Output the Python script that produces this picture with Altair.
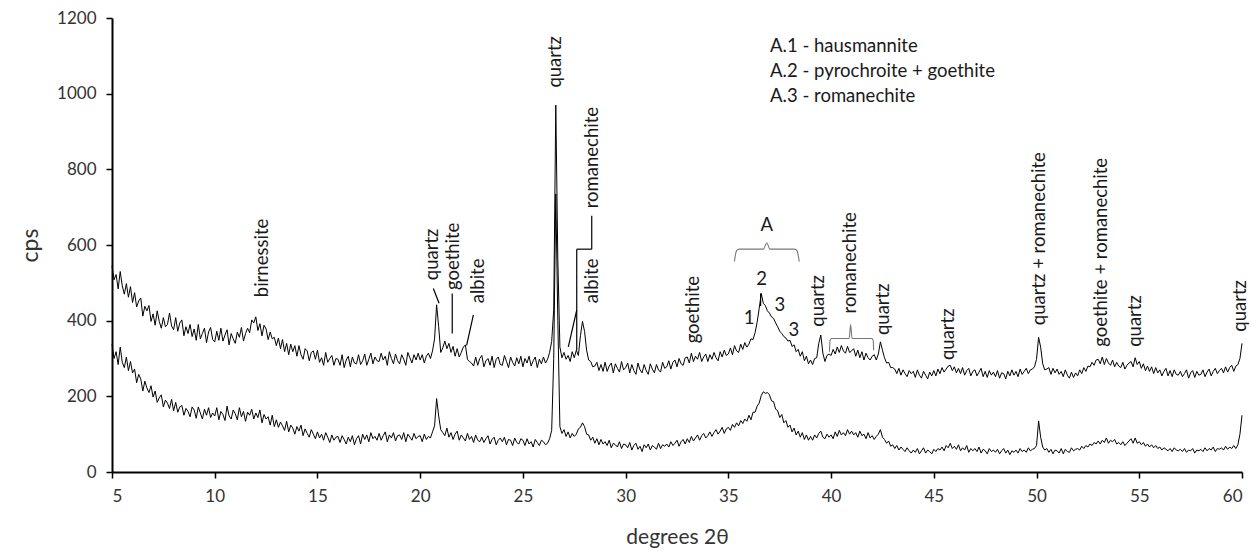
import altair as alt
import pandas as pd

# ---------------- data ----------------
X_START = 5.0
X_STEP = 0.1

upper = [
    545, 508, 522, 484, 530, 492, 470, 498, 462, 490,
    448, 474, 436, 452, 460, 412, 438, 426, 440, 398,
    418, 388, 426, 398, 380, 408, 384, 390, 420, 386,
    376, 408, 372, 394, 402, 360, 384, 366, 390, 358,
    378, 348, 390, 352, 366, 380, 342, 370, 382, 350,
    344, 372, 348, 380, 346, 362, 376, 336, 366, 352,
    340, 370, 356, 382, 346, 366, 380, 368, 402, 394,
    410, 374, 392, 360, 388, 378, 350, 370, 352, 356,
    334, 354, 326, 350, 318, 340, 310, 338, 318, 334,
    306, 334, 310, 298, 326, 320, 294, 316, 320, 298,
    322, 290, 302, 282, 316, 290, 300, 308, 282, 300,
    298, 282, 310, 276, 296, 306, 278, 304, 288, 286,
    310, 284, 294, 312, 282, 298, 314, 286, 304, 294,
    292, 314, 296, 306, 282, 318, 300, 286, 312, 294,
    286, 310, 298, 282, 316, 302, 288, 310, 296, 314,
    296, 310, 288, 306, 314, 300, 320, 352, 442, 384,
    316, 328, 346, 326, 340, 316, 332, 306, 326, 304,
    316, 330, 336, 298, 292, 288, 280, 304, 282, 300,
    308, 278, 294, 300, 282, 306, 276, 298, 304, 284,
    282, 308, 292, 276, 304, 290, 280, 302, 286, 306,
    278, 300, 288, 306, 280, 294, 304, 276, 298, 286,
    304, 288, 298, 316, 345, 430, 970, 560, 330, 302,
    316, 298, 308, 292, 318, 302, 322, 308, 360, 398,
    372, 322, 296, 292, 278, 280, 290, 268, 284, 266,
    290, 266, 280, 288, 262, 286, 274, 264, 292, 270,
    276, 288, 262, 284, 268, 258, 288, 270, 262, 284,
    268, 258, 286, 272, 262, 284, 270, 264, 290, 274,
    278, 294, 272, 290, 296, 278, 300, 286, 282, 302,
    304, 288, 314, 292, 306, 298, 316, 292, 304, 312,
    292, 310, 298, 316, 302, 294, 318, 304, 322, 308,
    312, 328, 310, 334, 320, 316, 338, 324, 342, 330,
    338, 352, 350, 368, 396, 432, 472, 446, 440, 426,
    420, 410, 406, 394, 384, 372, 366, 358, 354, 346,
    348, 332, 336, 318, 324, 306, 318, 294, 306, 286,
    296, 284, 300, 302, 340, 362, 314, 292, 308, 312,
    308, 324, 312, 330, 316, 334, 320, 314, 332, 316,
    320, 326, 306, 322, 302, 318, 296, 314, 302, 296,
    306, 310, 296, 312, 344, 322, 302, 288, 290, 276,
    276, 272, 260, 274, 256, 270, 260, 252, 268, 260,
    266, 250, 270, 256, 248, 266, 256, 246, 264, 254,
    268, 254, 272, 260, 276, 264, 272, 280, 282, 268,
    278, 262, 274, 260, 276, 256, 268, 274, 254, 266,
    270, 254, 264, 274, 252, 266, 250, 268, 256, 264,
    252, 268, 248, 262, 260, 246, 266, 254, 270, 256,
    266, 252, 272, 258, 266, 274, 260, 270, 272, 278,
    298, 356, 330, 286, 270, 272, 276, 258, 274, 262,
    272, 258, 266, 252, 270, 256, 248, 264, 250, 262,
    254, 270, 260, 276, 266, 280, 278, 290, 282, 296,
    298, 286, 304, 284, 300, 288, 282, 296, 278, 290,
    280, 276, 290, 272, 282, 288, 292, 278, 302, 284,
    292, 274, 286, 268, 280, 266, 278, 260, 276, 262,
    270, 254, 266, 274, 254, 268, 252, 270, 258, 256,
    266, 252, 260, 270, 248, 262, 268, 250, 266, 256,
    258, 270, 252, 264, 272, 254, 266, 274, 260, 268,
    274, 262, 278, 264, 276, 282, 266, 280, 284, 300,
    340,
]

lower = [
    338, 300, 318, 284, 330, 290, 276, 304, 268, 292,
    262, 272, 236, 258, 246, 214, 240, 222, 210, 228,
    198, 214, 184, 196, 204, 172, 190, 182, 168, 192,
    162, 184, 158, 172, 176, 150, 168, 160, 146, 172,
    164, 142, 172, 156, 140, 166, 150, 170, 144, 156,
    148, 170, 138, 160, 152, 136, 174, 148, 140, 164,
    154, 138, 170, 146, 160, 134, 158, 150, 166, 140,
    156, 144, 164, 130, 152, 140, 146, 124, 150, 120,
    138, 118, 132, 122, 110, 134, 106, 124, 116, 100,
    120, 108, 124, 96, 114, 102, 92, 112, 100, 88,
    106, 90, 100, 84, 104, 92, 78, 98, 84, 92,
    94, 78, 96, 86, 74, 92, 80, 96, 72, 88,
    96, 74, 100, 86, 98, 80, 104, 88, 94, 84,
    102, 84, 96, 106, 80, 98, 90, 104, 82, 96,
    98, 86, 104, 80, 100, 92, 84, 102, 88, 94,
    96, 80, 100, 86, 94, 90, 106, 122, 194, 148,
    112, 104, 96, 116, 92, 104, 86, 100, 108, 84,
    98, 90, 82, 102, 86, 94, 78, 98, 84, 80,
    92, 78, 88, 96, 74, 86, 92, 72, 84, 90,
    80, 92, 72, 86, 84, 70, 90, 78, 74, 88,
    84, 70, 88, 74, 80, 66, 86, 78, 70, 84,
    80, 72, 76, 88, 110, 300, 735, 400, 120, 102,
    112, 94, 106, 90, 102, 94, 100, 114, 118, 130,
    120, 100, 98, 84, 92, 76, 88, 72, 86, 74,
    80, 70, 84, 64, 76, 72, 66, 80, 62, 74,
    72, 64, 78, 58, 70, 76, 60, 68, 54, 72,
    64, 74, 58, 70, 66, 60, 76, 62, 72, 68,
    74, 66, 80, 70, 76, 84, 68, 80, 86, 74,
    88, 78, 94, 82, 90, 98, 84, 96, 102, 90,
    96, 106, 94, 104, 112, 100, 108, 118, 102, 114,
    118, 110, 126, 118, 130, 122, 136, 128, 140, 134,
    150, 138, 158, 158, 174, 182, 202, 212, 208, 210,
    204, 188, 186, 166, 162, 144, 152, 130, 136, 118,
    124, 106, 116, 98, 108, 92, 104, 86, 98, 84,
    94, 84, 98, 90, 102, 108, 92, 88, 100, 92,
    98, 88, 106, 94, 110, 98, 104, 96, 112, 100,
    108, 98, 104, 92, 108, 96, 100, 88, 104, 90,
    96, 86, 94, 100, 112, 92, 86, 76, 82, 68,
    72, 62, 70, 58, 66, 60, 54, 64, 56, 50,
    58, 52, 62, 48, 56, 64, 50, 58, 54, 48,
    60, 54, 62, 58, 66, 56, 70, 64, 76, 62,
    68, 60, 72, 56, 64, 58, 70, 52, 62, 56,
    62, 54, 66, 50, 60, 56, 48, 62, 54, 58,
    52, 60, 48, 56, 62, 50, 58, 46, 56, 52,
    58, 50, 62, 54, 58, 52, 64, 56, 60, 62,
    70, 135, 92, 66, 58, 62, 52, 60, 48, 58,
    56, 50, 62, 48, 60, 54, 52, 64, 56, 60,
    62, 58, 68, 62, 70, 66, 74, 70, 78, 74,
    82, 74, 84, 78, 90, 76, 84, 80, 86, 74,
    78, 72, 80, 70, 76, 82, 88, 76, 90, 76,
    80, 72, 78, 68, 74, 66, 72, 64, 70, 62,
    66, 58, 64, 60, 56, 62, 54, 64, 58, 56,
    60, 54, 62, 52, 58, 56, 62, 50, 58, 56,
    60, 54, 64, 56, 62, 58, 66, 54, 62, 60,
    64, 58, 68, 60, 66, 62, 70, 62, 72, 100,
    150,
]

# vertical (rotated) peak labels: text, 2theta, cps at the text's start
vlabel_text = ["birnessite", "quartz", "goethite", "albite", "quartz",
               "romanechite", "albite", "goethite", "quartz", "romanechite",
               "quartz", "quartz", "quartz + romanechite",
               "goethite + romanechite", "quartz", "quartz"]
vlabel_x = [12.3, 20.56, 21.61, 22.8, 26.56, 28.34, 28.34, 33.29, 39.37,
            40.91, 42.53, 45.70, 50.13, 53.16, 54.78, 59.89]
vlabel_y = [462, 507, 481, 446, 1016, 697, 446, 340, 384, 419, 362, 296,
            388, 331, 331, 371]

# horizontal small labels
hlabel_text = ["A", "2", "3", "1", "3"]
hlabel_x = [36.87, 36.62, 37.51, 36.01, 38.19]
hlabel_y = [653, 509, 441, 406, 375]

# phase key
key_text = ["A.1 - hausmannite", "A.2 - pyrochroite + goethite", "A.3 - romanechite"]
key_x = [37.03, 37.03, 37.03]
key_y = [1125, 1061, 995]

# leader lines
lead_x1 = [20.64, 21.56, 22.59, 28.35, 28.35, 27.62, 27.62, 36.57]
lead_y1 = [485, 472, 415, 677, 589, 589, 428, 472]
lead_x2 = [20.92, 21.56, 22.26, 28.35, 27.62, 27.62, 27.21, 36.57]
lead_y2 = [446, 366, 335, 589, 589, 322, 331, 439]

# brackets (polylines)
brA_x = [35.29, 35.40, 35.52, 36.71, 36.87, 37.02, 38.22, 38.34, 38.45]
brA_y = [556, 585, 589, 589, 606, 589, 589, 585, 556]
brR_x = [39.92, 39.95, 40.02, 40.88, 40.95, 41.02, 41.98, 42.05, 42.07]
brR_y = [318, 348, 353, 353, 390, 353, 353, 348, 322]

# ---------------- tables ----------------
rows = []
for name, vals in (("upper", upper), ("lower", lower)):
    for i, v in enumerate(vals):
        rows.append({"x": round(X_START + i * X_STEP, 2), "y": v, "s": name, "o": i})
trace_df = pd.DataFrame(rows)

vl_df = pd.DataFrame({"t": vlabel_text, "x": vlabel_x, "y": vlabel_y})
hl_df = pd.DataFrame({"t": hlabel_text, "x": hlabel_x, "y": hlabel_y})
key_df = pd.DataFrame({"t": key_text, "x": key_x, "y": key_y})
lead_df = pd.DataFrame({"x": lead_x1, "y": lead_y1, "x2": lead_x2, "y2": lead_y2})
br_rows = []
for g, xs, ys in (("A", brA_x, brA_y), ("R", brR_x, brR_y)):
    for i, (a, b) in enumerate(zip(xs, ys)):
        br_rows.append({"x": a, "y": b, "g": g, "o": i})
br_df = pd.DataFrame(br_rows)

FONT = "Lato"
TXT = 18.5
xscale = alt.Scale(domain=[5, 60], nice=False, zero=False)
yscale = alt.Scale(domain=[0, 1200], nice=False)

xenc = alt.X("x:Q", scale=xscale,
             axis=alt.Axis(values=list(range(5, 61, 5)), title="degrees 2θ",
                           titlePadding=22, format="d"))
yenc = alt.Y("y:Q", scale=yscale,
             axis=alt.Axis(values=list(range(0, 1201, 200)), title="cps",
                           titlePadding=14, format="d"))

traces = alt.Chart(trace_df).mark_line(color="black", strokeWidth=1.0).encode(
    x=xenc, y=yenc, detail="s:N", order="o:Q")

vlabels = alt.Chart(vl_df).mark_text(
    angle=270, align="left", baseline="middle", font=FONT, fontSize=TXT,
    color="#1a1a1a").encode(
    x=alt.X("x:Q", scale=xscale), y=alt.Y("y:Q", scale=yscale), text="t:N")

hlabels = alt.Chart(hl_df).mark_text(
    align="center", baseline="middle", font=FONT, fontSize=TXT,
    color="#1a1a1a").encode(
    x=alt.X("x:Q", scale=xscale), y=alt.Y("y:Q", scale=yscale), text="t:N")

keys = alt.Chart(key_df).mark_text(
    align="left", baseline="middle", font=FONT, fontSize=TXT,
    color="#1a1a1a").encode(
    x=alt.X("x:Q", scale=xscale), y=alt.Y("y:Q", scale=yscale), text="t:N")

leads = alt.Chart(lead_df).mark_rule(color="black", strokeWidth=1.2).encode(
    x=alt.X("x:Q", scale=xscale), y=alt.Y("y:Q", scale=yscale),
    x2="x2:Q", y2="y2:Q")

brackets = alt.Chart(br_df).mark_line(color="#777777", strokeWidth=1.1,
                                      interpolate="monotone").encode(
    x=alt.X("x:Q", scale=xscale), y=alt.Y("y:Q", scale=yscale),
    detail="g:N", order="o:Q")

chart = alt.layer(traces, leads, brackets, vlabels, hlabels, keys).properties(
    width=1130, height=454,
    autosize=alt.AutoSizeParams(type="none"),
    padding={"left": 112, "top": 18, "right": 15, "bottom": 83},
).configure_view(stroke=None).configure_axis(
    grid=False, domainColor="black", domainWidth=2, tickColor="black",
    tickWidth=1.5, tickSize=6, labelFont=FONT, labelFontSize=17,
    labelColor="#333333", titleFont=FONT, titleColor="#333333",
    titleFontWeight="normal", labelPadding=10,
).configure_axisY(titleFontSize=23).configure_axisX(titleFontSize=21)

chart.save("out.html", embed_options={"renderer": "svg", "actions": False})
